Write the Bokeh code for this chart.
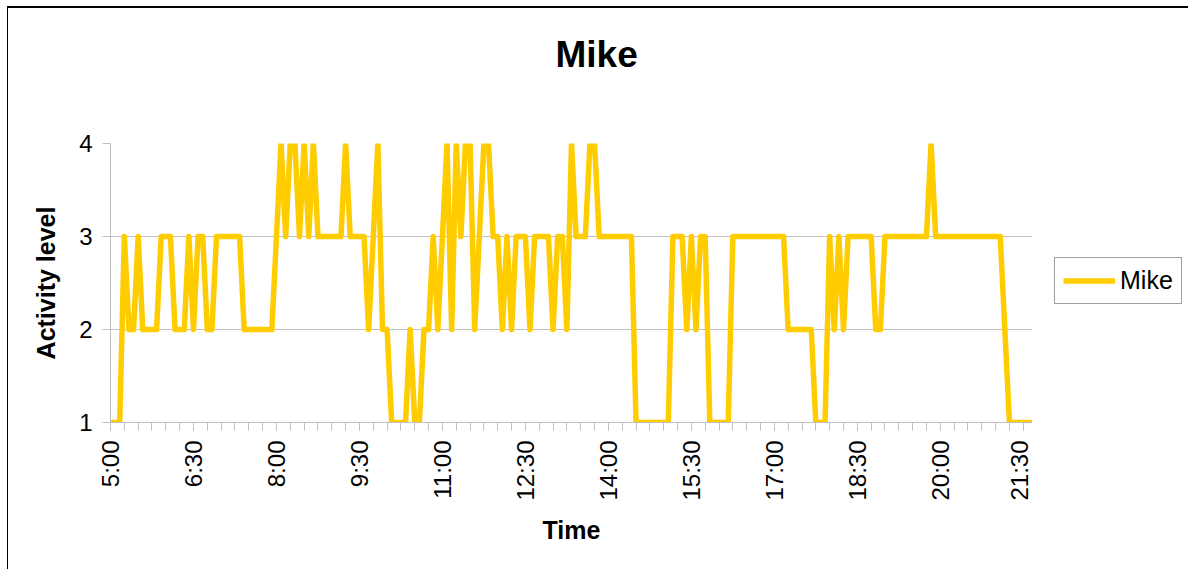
from bokeh.plotting import figure
from bokeh.models import Range1d, FixedTicker, Legend, LegendItem, Title
from bokeh.layouts import row
from bokeh.embed import file_html
from bokeh.resources import INLINE
import math

series_name = "Mike"
# Activity level, one reading every 5 minutes from 5:00 to 21:40
activity = [
    1, 1, 1, 3, 2, 2, 3, 2, 2, 2, 2, 3, 3, 3, 2, 2, 2, 3, 2, 3,
    3, 2, 2, 3, 3, 3, 3, 3, 3, 2, 2, 2, 2, 2, 2, 2, 3, 4, 3, 4,
    4, 3, 4, 3, 4, 3, 3, 3, 3, 3, 3, 4, 3, 3, 3, 3, 2, 3, 4, 2,
    2, 1, 1, 1, 1, 2, 1, 1, 2, 2, 3, 2, 3, 4, 2, 4, 3, 4, 4, 2,
    3, 4, 4, 3, 3, 2, 3, 2, 3, 3, 3, 2, 3, 3, 3, 3, 2, 3, 3, 2,
    4, 3, 3, 3, 4, 4, 3, 3, 3, 3, 3, 3, 3, 3, 1, 1, 1, 1, 1, 1,
    1, 1, 3, 3, 3, 2, 3, 2, 3, 3, 1, 1, 1, 1, 1, 3, 3, 3, 3, 3,
    3, 3, 3, 3, 3, 3, 3, 2, 2, 2, 2, 2, 2, 1, 1, 1, 3, 2, 3, 2,
    3, 3, 3, 3, 3, 3, 2, 2, 3, 3, 3, 3, 3, 3, 3, 3, 3, 3, 4, 3,
    3, 3, 3, 3, 3, 3, 3, 3, 3, 3, 3, 3, 3, 3, 2, 1, 1, 1, 1, 1,
    1,
]
start_minute = 300          # 5:00
step_minutes = 5
minutes = [start_minute + step_minutes * i for i in range(len(activity))]

tick_minutes = [300, 390, 480, 570, 660, 750, 840, 930, 1020, 1110, 1200, 1290]
tick_labels = ["5:00", "6:30", "8:00", "9:30", "11:00", "12:30",
               "14:00", "15:30", "17:00", "18:30", "20:00", "21:30"]
minor_minutes = list(range(300, 1301, 15))
y_ticks = [1, 2, 3, 4]

FONT = "Liberation Sans"
GRID = "#C0C0C0"
LINE_COLOR = "#FFCC00"

p = figure(width=1032, height=569, output_backend="svg", toolbar_location=None,
           x_range=Range1d(300, 1300), y_range=Range1d(1, 4),
           min_border_left=110, min_border_right=0,
           min_border_top=143, min_border_bottom=147)
p.outline_line_color = None
p.background_fill_color = None
p.border_fill_color = None

r = p.line(minutes, activity, line_color=LINE_COLOR, line_width=5.5, line_join="round")

p.title.text = series_name
p.title.align = "left"
p.title.offset = 445
p.title.vertical_align = "bottom"
p.title.standoff = 10
p.title.text_font = FONT
p.title.text_font_size = "37px"
p.title.text_font_style = "bold"
p.title.text_color = "black"
# empty spacer between title and plot area
p.add_layout(Title(text=" ", text_font=FONT, text_font_size="46px", standoff=10), "above")

p.xgrid.visible = False
p.ygrid.grid_line_color = GRID
p.ygrid.grid_line_width = 1

xa = p.xaxis[0]
xa.ticker = FixedTicker(ticks=tick_minutes, minor_ticks=minor_minutes)
xa.major_label_overrides = {t: l for t, l in zip(tick_minutes, tick_labels)}
xa.major_label_orientation = math.pi / 2
xa.axis_line_color = GRID
xa.major_tick_line_color = GRID
xa.minor_tick_line_color = GRID
xa.major_tick_in = 0
xa.major_tick_out = 8
xa.minor_tick_in = 0
xa.minor_tick_out = 8
xa.major_label_standoff = 10
xa.major_label_text_font = FONT
xa.major_label_text_font_size = "24px"
xa.major_label_text_color = "black"
xa.axis_label = "Time"
xa.axis_label_text_font = FONT
xa.axis_label_text_font_size = "25px"
xa.axis_label_text_font_style = "bold"
xa.axis_label_text_color = "black"
xa.axis_label_standoff = 12

ya = p.yaxis[0]
ya.ticker = FixedTicker(ticks=y_ticks, minor_ticks=[])
ya.axis_line_color = GRID
ya.major_tick_line_color = GRID
ya.minor_tick_line_color = None
ya.major_tick_in = 0
ya.major_tick_out = 8
ya.major_label_standoff = 10
ya.major_label_text_font = FONT
ya.major_label_text_font_size = "24px"
ya.major_label_text_color = "black"
ya.axis_label = "Activity level"
ya.axis_label_text_font = FONT
ya.axis_label_text_font_size = "25px"
ya.axis_label_text_font_style = "bold"
ya.axis_label_text_color = "black"
ya.axis_label_standoff = 16

# legend panel to the right of the plot area (its frame is aligned with the plot's)
pl = figure(width=156, height=569, output_backend="svg", toolbar_location=None,
            x_axis_location=None, y_axis_location=None,
            x_range=Range1d(0, 1), y_range=Range1d(0, 1),
            min_border=0)
pl.outline_line_color = None
pl.background_fill_color = None
pl.border_fill_color = None
pl.grid.visible = False
pl.title.visible = False
# same series, out of this panel's view: only used to draw the legend swatch
lr = pl.line(minutes, activity, line_color=LINE_COLOR, line_width=5.5)

legend = Legend(items=[LegendItem(label=series_name, renderers=[lr])],
                location=(22, 118), margin=0, padding=8, spacing=0,
                glyph_width=52, glyph_height=25, label_standoff=5,
                label_text_font=FONT, label_text_font_size="25px",
                label_text_color="black",
                border_line_color="#404040", border_line_width=1,
                background_fill_color="white")
pl.add_layout(legend)

layout = row(p, pl, spacing=0)
# chart-area border (top and left edges, like the reference)
layout.styles = {"box-shadow": "inset 7px 6px 0 0 #ffffff, inset 8px 8px 0 0 #000000",
                 "background-color": "#ffffff"}

open("out.html", "w").write(file_html(layout, INLINE))
